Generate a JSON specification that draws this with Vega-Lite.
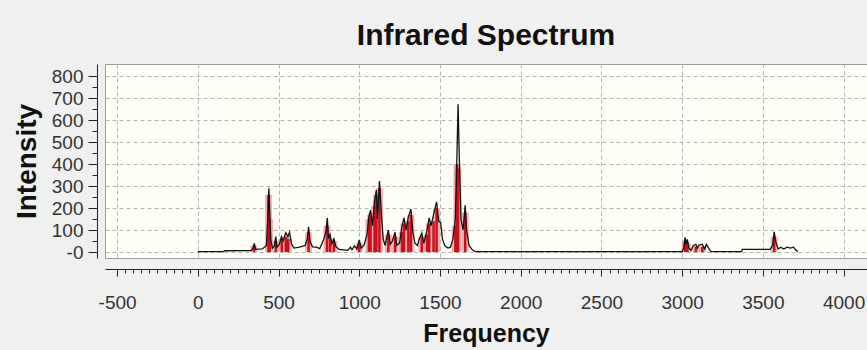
{
  "$schema": "https://vega.github.io/schema/vega-lite/v6.json",
  "width": 762,
  "height": 194,
  "autosize": {"type": "none"},
  "padding": {"left": 105, "top": 64, "right": 0, "bottom": 92},
  "background": "#f0f0f0",
  "title": {"text": "Infrared Spectrum", "font": "Liberation Sans, Arial, sans-serif", "fontSize": 30, "fontWeight": "bold", "color": "#111111", "anchor": "middle", "frame": "group", "baseline": "alphabetic", "offset": 18, "dy": 29},
  "config": {"view": {"fill": "#fffff8", "stroke": "#9a9a9a", "strokeWidth": 1}},
  "datasets": {
    "spectrum": [
      {"f":0,"i":2},{"f":160,"i":2},{"f":165,"i":6},{"f":330,"i":7},{"f":342,"i":18},{"f":350,"i":40},{"f":358,"i":12},{"f":400,"i":14},{"f":425,"i":30},{"f":433,"i":150},{"f":440,"i":290},{"f":446,"i":170},{"f":452,"i":55},{"f":462,"i":18},{"f":474,"i":28},{"f":483,"i":70},{"f":490,"i":22},{"f":505,"i":35},{"f":518,"i":70},{"f":528,"i":50},{"f":545,"i":88},{"f":558,"i":70},{"f":568,"i":90},{"f":580,"i":38},{"f":595,"i":18},{"f":630,"i":22},{"f":665,"i":30},{"f":678,"i":60},{"f":686,"i":115},{"f":695,"i":48},{"f":710,"i":24},{"f":735,"i":22},{"f":755,"i":16},{"f":770,"i":40},{"f":782,"i":62},{"f":795,"i":100},{"f":802,"i":155},{"f":810,"i":60},{"f":819,"i":80},{"f":830,"i":38},{"f":843,"i":60},{"f":855,"i":25},{"f":875,"i":12},{"f":900,"i":10},{"f":930,"i":8},{"f":945,"i":22},{"f":955,"i":10},{"f":970,"i":28},{"f":985,"i":14},{"f":1000,"i":55},{"f":1012,"i":18},{"f":1030,"i":32},{"f":1048,"i":80},{"f":1060,"i":165},{"f":1070,"i":190},{"f":1082,"i":120},{"f":1095,"i":235},{"f":1106,"i":282},{"f":1113,"i":150},{"f":1125,"i":323},{"f":1135,"i":200},{"f":1148,"i":60},{"f":1160,"i":30},{"f":1180,"i":100},{"f":1192,"i":35},{"f":1205,"i":50},{"f":1222,"i":90},{"f":1232,"i":30},{"f":1250,"i":42},{"f":1265,"i":120},{"f":1277,"i":155},{"f":1290,"i":100},{"f":1304,"i":160},{"f":1320,"i":195},{"f":1332,"i":90},{"f":1345,"i":40},{"f":1360,"i":30},{"f":1372,"i":60},{"f":1387,"i":87},{"f":1400,"i":40},{"f":1420,"i":100},{"f":1433,"i":155},{"f":1445,"i":120},{"f":1460,"i":170},{"f":1479,"i":228},{"f":1492,"i":140},{"f":1504,"i":135},{"f":1515,"i":60},{"f":1530,"i":28},{"f":1550,"i":18},{"f":1565,"i":22},{"f":1580,"i":60},{"f":1595,"i":150},{"f":1605,"i":440},{"f":1612,"i":672},{"f":1620,"i":420},{"f":1630,"i":150},{"f":1643,"i":100},{"f":1656,"i":213},{"f":1665,"i":100},{"f":1680,"i":30},{"f":1700,"i":10},{"f":1718,"i":2},{"f":3000,"i":2},{"f":3010,"i":20},{"f":3018,"i":67},{"f":3025,"i":35},{"f":3032,"i":58},{"f":3042,"i":18},{"f":3055,"i":8},{"f":3070,"i":30},{"f":3085,"i":35},{"f":3095,"i":18},{"f":3105,"i":32},{"f":3125,"i":36},{"f":3140,"i":14},{"f":3150,"i":35},{"f":3162,"i":20},{"f":3178,"i":2},{"f":3368,"i":2},{"f":3372,"i":12},{"f":3545,"i":12},{"f":3560,"i":30},{"f":3570,"i":92},{"f":3582,"i":40},{"f":3595,"i":14},{"f":3610,"i":22},{"f":3630,"i":14},{"f":3650,"i":22},{"f":3670,"i":18},{"f":3690,"i":22},{"f":3705,"i":8},{"f":3716,"i":2}
    ],
    "sticks": [
      {"f":348,"i":30},{"f":438,"i":260},{"f":445,"i":150},{"f":483,"i":50},{"f":520,"i":60},{"f":545,"i":70},{"f":560,"i":60},{"f":686,"i":90},{"f":800,"i":120},{"f":819,"i":60},{"f":843,"i":50},{"f":1000,"i":40},{"f":1060,"i":150},{"f":1070,"i":170},{"f":1095,"i":210},{"f":1106,"i":260},{"f":1125,"i":290},{"f":1180,"i":80},{"f":1222,"i":70},{"f":1265,"i":90},{"f":1277,"i":130},{"f":1304,"i":140},{"f":1320,"i":170},{"f":1387,"i":70},{"f":1420,"i":80},{"f":1433,"i":130},{"f":1460,"i":140},{"f":1479,"i":200},{"f":1595,"i":120},{"f":1605,"i":400},{"f":1612,"i":380},{"f":1656,"i":180},{"f":3018,"i":50},{"f":3032,"i":40},{"f":3085,"i":25},{"f":3125,"i":25},{"f":3570,"i":70}
    ]
  },
  "resolve": {"axis": {"x": "independent", "y": "independent"}},
  "layer": [
    {
      "data": {"name": "sticks"},
      "mark": {"type": "bar", "size": 7, "color": "#f2a3a3", "opacity": 0.85, "clip": true},
      "encoding": {
        "x": {"field": "f", "type": "quantitative", "scale": {"domain": [-544, 4114], "nice": false, "zero": false},
          "axis": {"orient": "bottom", "values": [-500,-450,-400,-350,-300,-250,-200,-150,-100,-50,0,50,100,150,200,250,300,350,400,450,500,550,600,650,700,750,800,850,900,950,1000,1050,1100,1150,1200,1250,1300,1350,1400,1450,1500,1550,1600,1650,1700,1750,1800,1850,1900,1950,2000,2050,2100,2150,2200,2250,2300,2350,2400,2450,2500,2550,2600,2650,2700,2750,2800,2850,2900,2950,3000,3050,3100,3150,3200,3250,3300,3350,3400,3450,3500,3550,3600,3650,3700,3750,3800,3850,3900,3950,4000],
            "labels": false, "title": null, "grid": false, "domain": false, "offset": 11, "tickSize": 4, "tickColor": "#222222", "tickWidth": 1}},
        "y": {"field": "i", "type": "quantitative", "scale": {"domain": [-27, 855], "nice": false, "zero": false},
          "axis": {"orient": "left", "values": [0,50,100,150,200,250,300,350,400,450,500,550,600,650,700,750,800],
            "labels": false, "title": null, "grid": false, "domain": false, "offset": 8, "tickSize": 5, "tickColor": "#222222"}}
      }
    },
    {
      "data": {"name": "sticks"},
      "mark": {"type": "bar", "size": 2.5, "color": "#c8101c", "clip": true},
      "encoding": {
        "x": {"field": "f", "type": "quantitative",
          "axis": {"orient": "bottom", "values": [-500,0,500,1000,1500,2000,2500,3000,3500,4000],
            "labelExpr": "'' + datum.value",
            "title": "Frequency", "titleFont": "Liberation Sans, Arial, sans-serif", "titleFontSize": 25, "titleFontWeight": "bold", "titleColor": "#111111", "titlePadding": 9,
            "labelFont": "Liberation Sans, Arial, sans-serif", "labelFontSize": 19, "labelColor": "#333333", "labelPadding": 17, "labelFlush": false,
            "grid": true, "gridDash": [4, 3], "gridColor": "#b4b4b4", "gridWidth": 1,
            "domain": true, "domainColor": "#222222", "offset": 11, "tickSize": 7, "tickColor": "#222222"}},
        "y": {"field": "i", "type": "quantitative",
          "axis": {"orient": "left", "values": [0,100,200,300,400,500,600,700,800],
            "labelExpr": "datum.value == 0 ? '-0' : '' + datum.value",
            "title": "Intensity", "titleFont": "Liberation Sans, Arial, sans-serif", "titleFontSize": 28, "titleFontWeight": "bold", "titleColor": "#111111", "titlePadding": 10,
            "labelFont": "Liberation Sans, Arial, sans-serif", "labelFontSize": 19, "labelColor": "#333333", "labelPadding": 5, "labelFlush": false,
            "grid": true, "gridDash": [4, 3], "gridColor": "#b4b4b4", "gridWidth": 1,
            "domain": true, "domainColor": "#222222", "offset": 8, "tickSize": 9, "tickColor": "#222222"}}
      }
    },
    {
      "data": {"name": "spectrum"},
      "mark": {"type": "line", "color": "#111111", "strokeWidth": 1.3, "clip": true},
      "encoding": {
        "x": {"field": "f", "type": "quantitative", "axis": null},
        "y": {"field": "i", "type": "quantitative", "axis": null}
      }
    }
  ]
}
